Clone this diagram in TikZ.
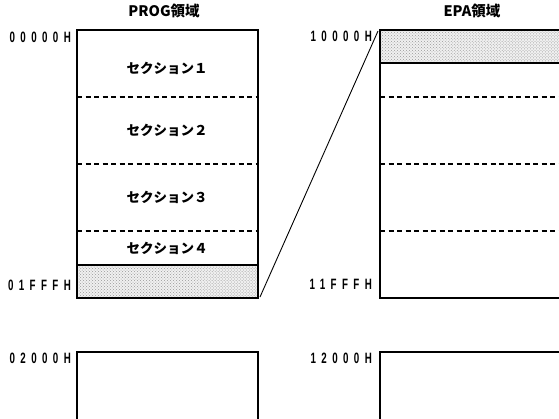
\documentclass[tikz,border=0pt]{standalone}
\usepackage{fontspec}
\setmainfont{Liberation Sans}
\newfontfamily\jpfont{Noto Sans CJK JP}
\newfontfamily\addrfont[LetterSpace=36,FakeStretch=0.65]{Liberation Sans}
\usetikzlibrary{patterns}
\begin{document}
\begin{tikzpicture}[x=1bp,y=-1bp,
  boxline/.style={line width=1.6bp},
  sepdash/.style={line width=1.1bp, dash pattern=on 5bp off 3.5bp},
  addr/.style={anchor=east, inner sep=0pt, font=\addrfont\bfseries\fontsize{15bp}{16bp}\selectfont},
  sect/.style={inner sep=0pt, font=\jpfont\bfseries\fontsize{13.5bp}{15bp}\selectfont},
  title/.style={inner sep=0pt, font=\jpfont\bfseries\fontsize{14.5bp}{16bp}\selectfont}]
\useasboundingbox (0,0) rectangle (559,418);
\clip (0,0) rectangle (559,418);
% coordinates
\coordinate (pnw) at (77,30);
\coordinate (pse) at (258,298);
\coordinate (enw) at (380,30);
\coordinate (ese) at (562,298);
% shaded regions
\fill[gray!12] (77,265) rectangle (258,298);
\fill[pattern=crosshatch dots, pattern color=gray!80] (77,265) rectangle (258,298);
\fill[gray!12] (380,30) rectangle (562,63);
\fill[pattern=crosshatch dots, pattern color=gray!80] (380,30) rectangle (562,63);
% left box
\draw[boxline] (pnw) rectangle (pse);
\draw[sepdash] (77,97) -- (258,97);
\draw[sepdash] (77,164) -- (258,164);
\draw[sepdash] (77,231) -- (258,231);
\draw[line width=1.3bp] (77,265) -- (258,265);
% right box
\draw[boxline] (562,30) -- (enw) -- (380,298) -- (562,298);
\draw[line width=1.3bp] (380,63) -- (562,63);
\draw[sepdash] (380,97) -- (562,97);
\draw[sepdash] (380,164) -- (562,164);
\draw[sepdash] (380,231) -- (562,231);
% connector
\draw[line width=0.9bp] (260,297) -- (378,31);
% bottom boxes
\draw[boxline] (77,420) -- (77,352) -- (258,352) -- (258,420);
\draw[boxline] (380,420) -- (380,352) -- (562,352);
% titles
\node[title] (t1) at (164,11) {PROG領域};
\node[title] (t2) at (472,11) {EPA領域};
% section labels
\node[sect] (s1) at (167,68) {セクション１};
\node[sect] (s2) at (167,130) {セクション２};
\node[sect] (s3) at (167,197) {セクション３};
\node[sect] (s4) at (167,248) {セクション４};
% addresses
\node[addr] (a1) at (71,37) {00000H};
\node[addr] (a2) at (71,285) {01FFFH};
\node[addr] (a3) at (71,358) {02000H};
\node[addr] (a4) at (372,36) {10000H};
\node[addr] (a5) at (372,284) {11FFFH};
\node[addr] (a6) at (372,358) {12000H};
\end{tikzpicture}
\end{document}
